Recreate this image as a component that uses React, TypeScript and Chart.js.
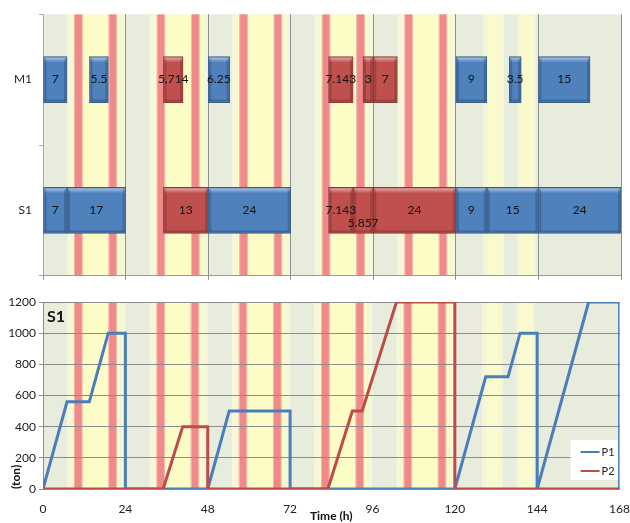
import React, { useEffect, useRef } from 'react';
import { Chart, registerables } from 'chart.js';
Chart.register(...registerables);

const FONT = 'Lato, "Open Sans", sans-serif';

// ---- data ----
const rows = ['M1', 'S1'];
const timeMax = 168;
const timeStep = 24;
const tonMax = 1200;
const tonStep = 200;
const seriesNames = ['P1', 'P2'];

// Gantt segments [start, end] in hours
const m1P1 = [[0, 7], [13.5, 19], [48, 54.25], [120, 129], [135.5, 139], [144, 159]];
const m1P2 = [[35, 40.714], [83, 90.143], [93, 96], [96, 103]];
const s1P1 = [[0, 7], [7, 24], [48, 72], [120, 129], [129, 144], [144, 168]];
const s1P2 = [[35, 48], [83, 90.143], [90.143, 96], [96, 120]];

// S1 inventory (ton)
const p1Time = [0, 7, 13.5, 19, 24, 24, 48, 54.25, 72, 72, 120, 129, 135.5, 139, 144, 144, 159, 168, 168];
const p1Ton = [0, 560, 560, 1000, 1000, 0, 0, 500, 500, 0, 0, 720, 720, 1000, 1000, 0, 1200, 1200, 0];
const p2Time = [0, 35, 40.714, 48, 48, 83, 90.143, 93, 103, 120, 120, 168];
const p2Ton = [0, 0, 400, 400, 0, 0, 500, 500, 1200, 1200, 0, 0];

// tariff background bands (hour-of-day start, end, level)
const weekdayBands: [number, number, string][] = [
  [7, 8.5, 'pale'], [8.5, 9.0, 'yellow'], [9.0, 9.3, 'pink'], [9.3, 11.3, 'red'], [11.3, 11.6, 'pink'],
  [11.6, 19.0, 'yellow'], [19.0, 19.3, 'pink'], [19.3, 21.3, 'red'], [21.3, 21.6, 'pink'],
  [21.6, 22.5, 'yellow'], [22.5, 24, 'pale'],
];
const saturdayBands: [number, number, string][] = [
  [8, 9, 'pale'], [9, 13.4, 'light'], [13.4, 14, 'pale'], [18, 18.7, 'pale'], [18.7, 22.5, 'light'], [22.5, 23.2, 'pale'],
];
const dayTypes = ['wd', 'wd', 'wd', 'wd', 'wd', 'sat', 'sun'];

const BAND_COLORS: Record<string, string> = {
  green: '#e7ecdd',
  pale: '#f5f7d8',
  light: '#f9fbcf',
  yellow: '#fcfcc6',
  pink: '#f5b5a9',
  red: '#f08a8a',
};

const BLUE = '#4F81BD';
const BLUE_BORDER = '#385D8A';
const RED = '#C0504D';
const RED_BORDER = '#8C3836';
const LINE_BLUE = '#4A7EBB';
const LINE_RED = '#BE4B48';

const bgPlugin = {
  id: 'tariffBg',
  beforeDraw(chart: any) {
    const { ctx, chartArea: a, scales } = chart;
    const x = scales.x;
    ctx.save();
    ctx.beginPath();
    ctx.rect(a.left, a.top, a.right - a.left, a.bottom - a.top);
    ctx.clip();
    ctx.fillStyle = BAND_COLORS.green;
    ctx.fillRect(a.left, a.top, a.right - a.left, a.bottom - a.top);
    dayTypes.forEach((t, d) => {
      const bands = t === 'wd' ? weekdayBands : t === 'sat' ? saturdayBands : [];
      bands.forEach(([s, e, c]) => {
        const x0 = x.getPixelForValue(d * 24 + s);
        const x1 = x.getPixelForValue(d * 24 + e);
        ctx.fillStyle = BAND_COLORS[c];
        ctx.fillRect(x0, a.top, x1 - x0, a.bottom - a.top);
      });
    });
    ctx.restore();
  },
};

const fmt = (v: number) => String(Math.round(v * 1000) / 1000);

const barDecorPlugin = {
  id: 'barDecor',
  afterDatasetsDraw(chart: any) {
    const ctx = chart.ctx;
    const items: any[] = [];
    chart.data.datasets.forEach((ds: any, di: number) => {
      const meta = chart.getDatasetMeta(di);
      meta.data.forEach((el: any, i: number) => {
        const p = el.getProps(['x', 'y', 'base', 'height'], true);
        const raw = ds.data[i];
        items.push({
          left: Math.min(p.x, p.base),
          right: Math.max(p.x, p.base),
          y: p.y,
          h: p.height,
          text: fmt(raw.x[1] - raw.x[0]),
          row: raw.y,
        });
      });
    });
    ctx.save();
    items.forEach((it) => {
      const t = it.y - it.h / 2, b = it.y + it.h / 2, l = it.left, r = it.right;
      const g = ctx.createLinearGradient(0, t, 0, t + 6);
      g.addColorStop(0, 'rgba(255,255,255,0.6)');
      g.addColorStop(1, 'rgba(255,255,255,0)');
      ctx.fillStyle = g;
      ctx.fillRect(l + 1, t + 1, r - l - 2, 6);
      ctx.fillStyle = 'rgba(0,0,0,0.18)';
      ctx.fillRect(l + 1, b - 3, r - l - 2, 2);
      ctx.fillRect(l + 1, t + 2, 2, b - t - 4);
      ctx.fillRect(r - 3, t + 2, 2, b - t - 4);
    });
    ctx.font = `12px ${FONT}`;
    ctx.textAlign = 'center';
    ctx.textBaseline = 'middle';
    ctx.fillStyle = '#111';
    const lastRight: Record<string, number> = {};
    items.sort((a, b) => (a.row === b.row ? a.left - b.left : a.row < b.row ? -1 : 1));
    items.forEach((it) => {
      const w = ctx.measureText(it.text).width;
      const cx = (it.left + it.right) / 2;
      let y = it.y;
      if (lastRight[it.row] !== undefined && cx - w / 2 < lastRight[it.row] + 1) y += 13;
      ctx.fillText(it.text, cx, y);
      lastRight[it.row] = cx + w / 2;
    });
    ctx.restore();
  },
};

const lineDecorPlugin = {
  id: 'lineDecor',
  beforeDatasetsDraw(chart: any) {
    const { ctx, chartArea: a } = chart;
    ctx.save();
    const boxW = 48, boxH = 40;
    const bx = a.right - 1 - boxW;
    const by = a.bottom - 9 - boxH;
    ctx.fillStyle = '#ffffff';
    ctx.fillRect(bx, by, boxW, boxH);
    ctx.font = `11px ${FONT}`;
    ctx.textBaseline = 'middle';
    ctx.textAlign = 'left';
    chart.data.datasets.forEach((ds: any, i: number) => {
      const y = by + 12 + i * 19;
      ctx.strokeStyle = ds.borderColor;
      ctx.lineWidth = 2;
      ctx.beginPath();
      ctx.moveTo(bx + 10, y);
      ctx.lineTo(bx + 29, y);
      ctx.stroke();
      ctx.fillStyle = '#222';
      ctx.fillText(ds.label, bx + 31, y);
    });
    ctx.restore();
  },
  afterDraw(chart: any) {
    const { ctx, chartArea: a } = chart;
    ctx.save();
    ctx.font = `bold 16px ${FONT}`;
    ctx.fillStyle = '#111';
    ctx.textBaseline = 'middle';
    ctx.textAlign = 'left';
    ctx.fillText('S1', a.left + 4, a.top + 15);
    ctx.restore();
  },
};

const toSeg = (segs: number[][], row: string) => segs.map((s) => ({ x: s, y: row }));

export default function App() {
  const topRef = useRef<HTMLCanvasElement>(null);
  const botRef = useRef<HTMLCanvasElement>(null);

  useEffect(() => {
    const tickFont = { family: FONT, size: 12 };
    const top = new Chart(topRef.current as HTMLCanvasElement, {
      type: 'bar',
      data: {
        labels: rows,
        datasets: [
          {
            label: seriesNames[0],
            data: [...toSeg(m1P1, rows[0]), ...toSeg(s1P1, rows[1])] as any,
            backgroundColor: BLUE,
            borderColor: BLUE_BORDER,
            borderWidth: 1,
            borderSkipped: false,
            grouped: false,
            barPercentage: 1,
            categoryPercentage: 1,
            barThickness: 46,
            maxBarThickness: 46,
          },
          {
            label: seriesNames[1],
            data: [...toSeg(m1P2, rows[0]), ...toSeg(s1P2, rows[1])] as any,
            backgroundColor: RED,
            borderColor: RED_BORDER,
            borderWidth: 1,
            borderSkipped: false,
            grouped: false,
            barPercentage: 1,
            categoryPercentage: 1,
            barThickness: 46,
            maxBarThickness: 46,
          },
        ],
      },
      options: {
        responsive: false,
        animation: false,
        devicePixelRatio: 1,
        events: [],
        indexAxis: 'y',
        layout: { padding: { top: 13, right: 9, left: 0, bottom: 0 } },
        plugins: { legend: { display: false }, tooltip: { enabled: false } },
        scales: {
          x: {
            type: 'linear',
            min: 0,
            max: timeMax,
            ticks: { stepSize: timeStep, display: false },
            grid: { color: '#8f8f8f', lineWidth: 1, drawTicks: true, tickLength: 4 },
            border: { display: true, color: '#9a9a9a' },
            afterFit: (s: any) => { s.height = 7; },
          },
          y: {
            type: 'category',
            labels: rows,
            offset: true,
            ticks: { font: tickFont, color: '#222', padding: 7 },
            grid: { offset: true, drawOnChartArea: false, drawTicks: true, tickLength: 4, color: '#a8a8a8' },
            border: { display: true, color: '#a8a8a8' },
            afterFit: (s: any) => { s.width = 43; },
          },
        },
      } as any,
      plugins: [bgPlugin, barDecorPlugin],
    });

    const bot = new Chart(botRef.current as HTMLCanvasElement, {
      type: 'line',
      data: {
        datasets: [
          {
            label: seriesNames[0],
            data: p1Time.map((t, i) => ({ x: t, y: p1Ton[i] })),
            borderColor: LINE_BLUE,
            backgroundColor: LINE_BLUE,
            borderWidth: 3,
            pointRadius: 0,
            tension: 0,
            fill: false,
            order: 1,
          },
          {
            label: seriesNames[1],
            data: p2Time.map((t, i) => ({ x: t, y: p2Ton[i] })),
            borderColor: LINE_RED,
            backgroundColor: LINE_RED,
            borderWidth: 3,
            pointRadius: 0,
            tension: 0,
            fill: false,
            order: 0,
          },
        ],
      },
      options: {
        responsive: false,
        animation: false,
        devicePixelRatio: 1,
        events: [],
        layout: { padding: { top: 12, right: 9, left: 0, bottom: 0 } },
        plugins: { legend: { display: false }, tooltip: { enabled: false } },
        scales: {
          x: {
            type: 'linear',
            min: 0,
            max: timeMax,
            ticks: { stepSize: timeStep, font: tickFont, color: '#222', padding: 0, maxRotation: 0, callback: (v: any) => String(v) },
            grid: { display: true, drawOnChartArea: false, drawTicks: true, tickLength: 13, tickColor: 'rgba(0,0,0,0)' },
            border: { display: true, color: '#8c8c8c' },
            title: { display: true, text: 'Time (h)', font: { family: FONT, size: 12, weight: 'bold' }, color: '#111', padding: 0 },
            afterFit: (s: any) => { s.height = 34; },
          },
          y: {
            type: 'linear',
            min: 0,
            max: tonMax,
            ticks: { stepSize: tonStep, font: tickFont, color: '#222', padding: 3, callback: (v: any) => String(v) },
            grid: { color: '#8c8c8c', lineWidth: 1, drawTicks: true, tickLength: 4 },
            border: { display: true, color: '#8c8c8c' },
            title: { display: true, text: '(ton)', align: 'start', font: { family: FONT, size: 12, weight: 'bold' }, color: '#111', padding: { top: 9, bottom: 0 } },
            afterFit: (s: any) => { s.width = 43; },
          },
        },
      } as any,
      plugins: [bgPlugin, lineDecorPlugin],
    });

    return () => {
      top.destroy();
      bot.destroy();
    };
  }, []);

  return (
    <div style={{ position: 'absolute', left: 0, top: 0, width: 630, height: 523, background: '#ffffff' }}>
      <canvas ref={topRef} width={630} height={290} style={{ position: 'absolute', left: 0, top: 0, width: 630, height: 290 }} />
      <canvas ref={botRef} width={630} height={233} style={{ position: 'absolute', left: 0, top: 290, width: 630, height: 233 }} />
    </div>
  );
}
